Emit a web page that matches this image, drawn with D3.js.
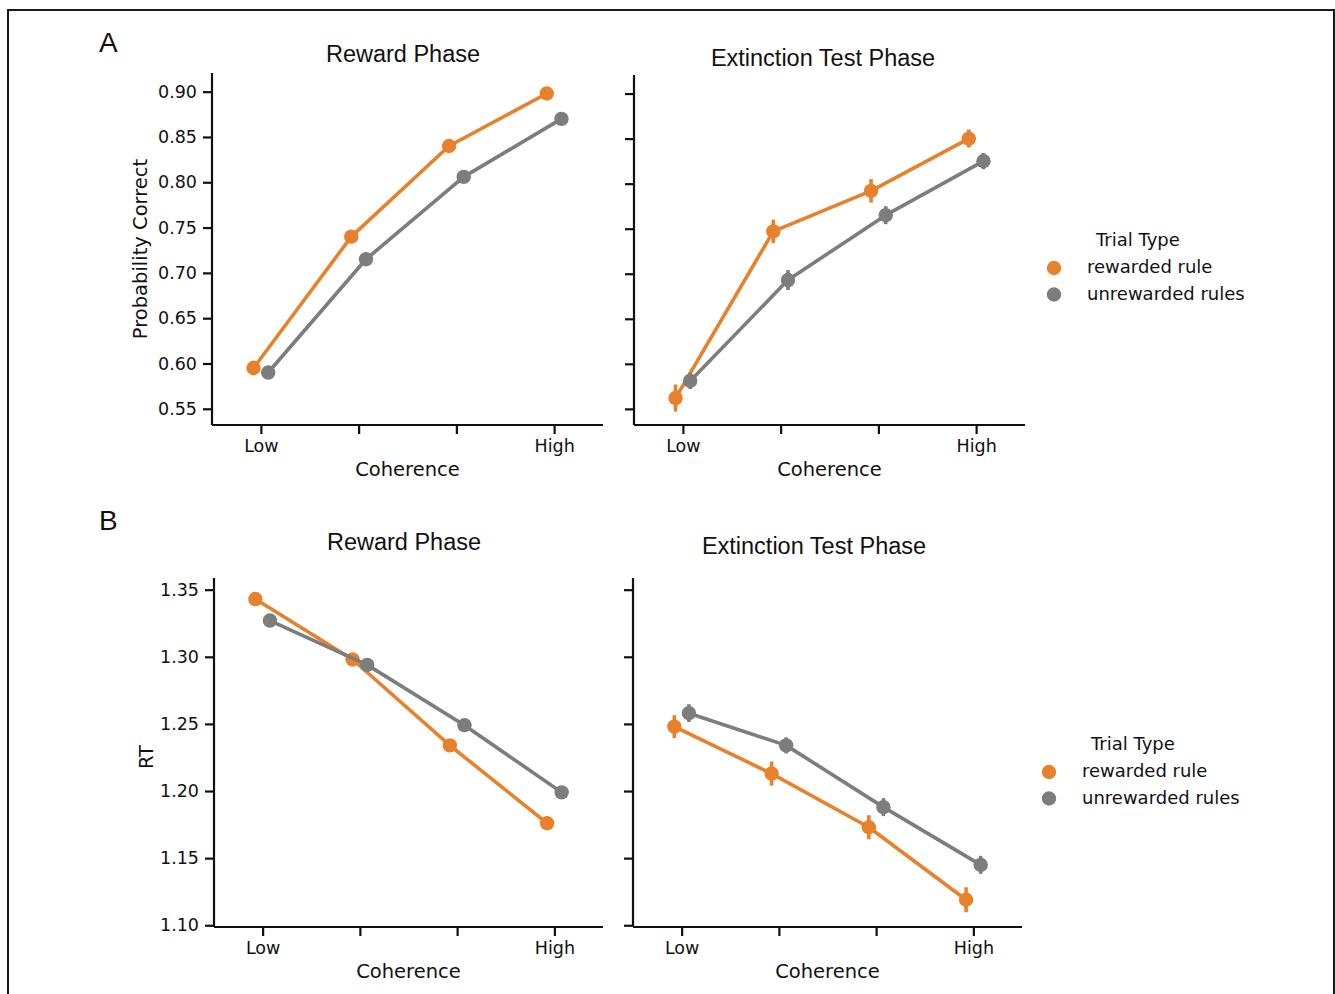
<!DOCTYPE html>
<html>
<head>
<meta charset="utf-8">
<script src="https://cdn.jsdelivr.net/npm/d3@7"></script>
<style>
  html, body { margin: 0; padding: 0; background: #fff; }
  svg { display: block; }
</style>
</head>
<body>
<svg id="chart" width="1335" height="994"></svg>
<script>
// ---------------- DATA ----------------
const categories = [0, 1, 2, 3];
const tickLabels = ["Low", "", "", "High"];
const trialTypes = ["rewarded rule", "unrewarded rules"];

// Panel A: Probability correct
const accRewardRewarded     = [0.595, 0.740, 0.840, 0.898];
const accRewardRewardedErr  = [0.008, 0.007, 0.006, 0.004];
const accRewardUnrewarded   = [0.590, 0.715, 0.806, 0.870];
const accRewardUnrewardedErr= [0.005, 0.005, 0.004, 0.004];
const accExtRewarded        = [0.562, 0.747, 0.792, 0.850];
const accExtRewardedErr     = [0.015, 0.013, 0.013, 0.010];
const accExtUnrewarded      = [0.581, 0.693, 0.765, 0.825];
const accExtUnrewardedErr   = [0.009, 0.011, 0.010, 0.009];
const accTicks = [0.55, 0.60, 0.65, 0.70, 0.75, 0.80, 0.85, 0.90];

// Panel B: RT
const rtRewardRewarded      = [1.343, 1.298, 1.234, 1.176];
const rtRewardRewardedErr   = [0.004, 0.004, 0.004, 0.003];
const rtRewardUnrewarded    = [1.327, 1.294, 1.249, 1.199];
const rtRewardUnrewardedErr = [0.003, 0.003, 0.003, 0.003];
const rtExtRewarded         = [1.248, 1.213, 1.173, 1.119];
const rtExtRewardedErr      = [0.0085, 0.009, 0.009, 0.0093];
const rtExtUnrewarded       = [1.258, 1.234, 1.188, 1.145];
const rtExtUnrewardedErr    = [0.0066, 0.006, 0.0067, 0.0067];
const rtTicks = [1.10, 1.15, 1.20, 1.25, 1.30, 1.35];

// ---------------- STYLE ----------------
const ORANGE = "#e8812b";
const GRAY = "#7d7d7d";
const colors = [ORANGE, GRAY];
const sansTitle = "'Liberation Sans', Arial, sans-serif";
const sansBody = "'DejaVu Sans', sans-serif";

const svg = d3.select("#chart");

// frame
svg.append("path")
  .attr("d", "M8,994 L8,10 L1334,10 L1334,994")
  .attr("fill", "none").attr("stroke", "#1a1a1a").attr("stroke-width", 2);

// panel letters
svg.append("text").text("A").attr("x", 99).attr("y", 52)
  .attr("font-family", sansTitle).attr("font-size", 28).attr("fill", "#111");
svg.append("text").text("B").attr("x", 99).attr("y", 530)
  .attr("font-family", sansTitle).attr("font-size", 28).attr("fill", "#111");

function drawPanel(cfg) {
  const g = svg.append("g");
  const x = d3.scaleLinear().domain([-0.5, 3.5]).range([cfg.x0, cfg.x1]);
  const y = d3.scaleLinear().domain(cfg.yDomain).range([cfg.yBot, cfg.yTop]);
  const dodge = 0.075;

  // axes
  const xAxis = d3.axisBottom(x).tickValues(categories)
    .tickFormat((d, i) => tickLabels[i]).tickSize(9).tickPadding(6);
  const gx = g.append("g").attr("transform", `translate(0,${cfg.yBot})`).call(xAxis);
  gx.select(".domain").attr("d", `M${cfg.x0},0H${cfg.x1}`);

  const yAxis = d3.axisLeft(y).tickValues(cfg.yTicks)
    .tickFormat(cfg.showYLabels ? d3.format(".2f") : () => "").tickSize(9).tickPadding(6);
  const gy = g.append("g").attr("transform", `translate(${cfg.x0},0)`).call(yAxis);
  gy.select(".domain").attr("d", `M0,${cfg.yTop}V${cfg.yBot}`);

  [gx, gy].forEach(a => {
    a.selectAll(".domain").attr("stroke", "#111").attr("stroke-width", 2.2);
    a.selectAll(".tick line").attr("stroke", "#111").attr("stroke-width", 2.2);
    a.selectAll(".tick text").attr("font-family", sansBody).attr("font-size", 17.5).attr("fill", "#111");
  });

  // title
  g.append("text").text(cfg.title)
    .attr("x", cfg.titleX).attr("y", cfg.titleY).attr("text-anchor", "middle")
    .attr("font-family", sansTitle).attr("font-size", 23.5).attr("fill", "#111");

  // x label
  g.append("text").text("Coherence")
    .attr("x", (cfg.x0 + cfg.x1) / 2).attr("y", cfg.yBot + 51).attr("text-anchor", "middle")
    .attr("font-family", sansBody).attr("font-size", 19.5).attr("fill", "#111");

  // y label
  if (cfg.yLabel) {
    g.append("text").text(cfg.yLabel)
      .attr("transform", `translate(${cfg.yLabelX},${cfg.yLabelY}) rotate(-90)`)
      .attr("text-anchor", "middle")
      .attr("font-family", sansBody).attr("font-size", 19.5).attr("fill", "#111");
  }

  // series
  cfg.series.forEach((s, si) => {
    const off = si === 0 ? -dodge : dodge;
    const pts = categories.map((c, i) => ({ c: c + off, v: s.values[i], e: s.err[i] }));
    const line = d3.line().x(d => x(d.c)).y(d => y(d.v));
    g.append("path").datum(pts).attr("d", line)
      .attr("fill", "none").attr("stroke", colors[si]).attr("stroke-width", 3.6)
      .attr("stroke-linejoin", "round");
    g.selectAll(null).data(pts).enter().append("line")
      .attr("x1", d => x(d.c)).attr("x2", d => x(d.c))
      .attr("y1", d => y(d.v - d.e)).attr("y2", d => y(d.v + d.e))
      .attr("stroke", colors[si]).attr("stroke-width", 3.6);
    g.selectAll(null).data(pts).enter().append("circle")
      .attr("cx", d => x(d.c)).attr("cy", d => y(d.v)).attr("r", 7.2)
      .attr("fill", colors[si]);
  });
}

function drawLegend(lx, ly) {
  const g = svg.append("g");
  g.append("text").text("Trial Type").attr("x", lx + 42).attr("y", ly)
    .attr("font-family", sansBody).attr("font-size", 18).attr("fill", "#111");
  trialTypes.forEach((t, i) => {
    const yy = ly + 27 + i * 26.5;
    g.append("circle").attr("cx", lx).attr("cy", yy - 5).attr("r", 7.2).attr("fill", colors[i]);
    g.append("text").text(t).attr("x", lx + 33).attr("y", yy)
      .attr("font-family", sansBody).attr("font-size", 18).attr("fill", "#111");
  });
}

// Panel A
const accDomain = [0.5321, 0.9206];
drawPanel({
  x0: 212, x1: 603, yTop: 73, yBot: 425, yDomain: accDomain, yTicks: accTicks, showYLabels: true,
  title: "Reward Phase", titleX: 403, titleY: 62,
  yLabel: "Probability Correct", yLabelX: 147, yLabelY: 249,
  series: [
    { values: accRewardRewarded, err: accRewardRewardedErr },
    { values: accRewardUnrewarded, err: accRewardUnrewardedErr }
  ]
});
drawPanel({
  x0: 634, x1: 1025, yTop: 75, yBot: 425, yDomain: accDomain, yTicks: accTicks, showYLabels: false,
  title: "Extinction Test Phase", titleX: 823, titleY: 66,
  series: [
    { values: accExtRewarded, err: accExtRewardedErr },
    { values: accExtUnrewarded, err: accExtUnrewardedErr }
  ]
});
drawLegend(1054, 246);

// Panel B
const rtDomain = [1.0987, 1.3587];
drawPanel({
  x0: 214, x1: 603, yTop: 578, yBot: 927, yDomain: rtDomain, yTicks: rtTicks, showYLabels: true,
  title: "Reward Phase", titleX: 404, titleY: 550,
  yLabel: "RT", yLabelX: 153, yLabelY: 757,
  series: [
    { values: rtRewardRewarded, err: rtRewardRewardedErr },
    { values: rtRewardUnrewarded, err: rtRewardUnrewardedErr }
  ]
});
drawPanel({
  x0: 633, x1: 1022, yTop: 578, yBot: 927, yDomain: rtDomain, yTicks: rtTicks, showYLabels: false,
  title: "Extinction Test Phase", titleX: 814, titleY: 554,
  series: [
    { values: rtExtRewarded, err: rtExtRewardedErr },
    { values: rtExtUnrewarded, err: rtExtUnrewardedErr }
  ]
});
drawLegend(1049, 750);
</script>
</body>
</html>
